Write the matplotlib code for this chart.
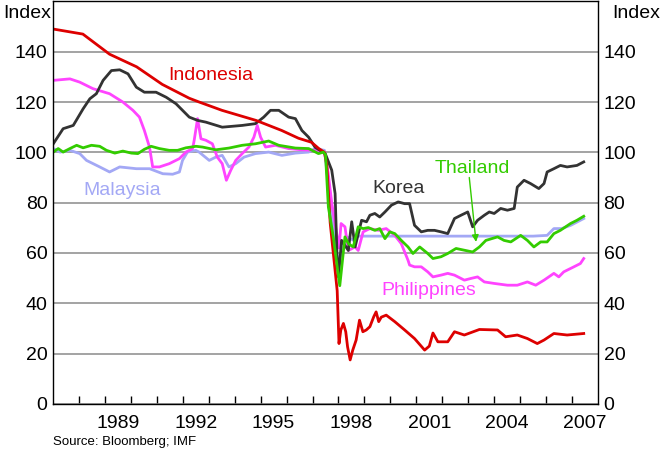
import numpy as np
import matplotlib
matplotlib.use("Agg")
import matplotlib.pyplot as plt

plt.rcParams['font.family'] = ['Liberation Sans', 'DejaVu Sans']

# exchange rate indices against US$, decimal years
indo_t = [1987.01, 1988.15, 1989.18, 1990.22, 1991.21, 1992.25, 1992.63, 1993.51,
          1994.82, 1995.81, 1996.46, 1996.96, 1997.23, 1997.46, 1997.55, 1997.68,
          1997.85, 1997.95, 1998.02, 1998.09, 1998.19, 1998.28, 1998.35, 1998.45,
          1998.55, 1998.68, 1998.81, 1998.94, 1999.07, 1999.21, 1999.36, 1999.45,
          1999.55, 1999.65, 1999.84, 2000.17, 2000.55, 2000.93, 2001.32, 2001.50,
          2001.64, 2001.83, 2002.21, 2002.47, 2002.85, 2003.43, 2004.13, 2004.44,
          2004.89, 2005.28, 2005.66, 2005.92, 2006.30, 2006.81, 2007.45]
indo_v = [149, 147, 139, 134, 127, 121.5, 120, 116.7,
          112.7, 108.7, 105.6, 104, 101.6, 100, 95, 72,
          55, 45, 24, 29.4, 32, 28.7, 22.7, 17.5,
          21.4, 25.4, 33.3, 28.7, 29.4, 30.7, 34.7, 36.6,
          32.7, 34.5, 35.3, 32.7, 29.4, 26, 21.4, 23,
          28.2, 24.7, 24.7, 28.7, 27.4, 29.6, 29.4, 26.7,
          27.4, 26, 24, 25.4, 28, 27.4, 28]

korea_t = [1987.01, 1987.39, 1987.78, 1988.16, 1988.42, 1988.67, 1988.93, 1989.25,
           1989.57, 1989.89, 1990.21, 1990.52, 1990.97, 1991.36, 1991.74, 1992.25,
           1992.57, 1992.89, 1993.52, 1994.29, 1994.80, 1995.12, 1995.38, 1995.70,
           1996.08, 1996.34, 1996.59, 1996.85, 1997.10, 1997.49, 1997.74, 1997.87,
           1997.94, 1998.00, 1998.12, 1998.38, 1998.51, 1998.64, 1998.89, 1999.08,
           1999.21, 1999.40, 1999.59, 1999.79, 2000.04, 2000.30, 2000.55, 2000.74,
           2000.93, 2001.19, 2001.44, 2001.70, 2001.95, 2002.21, 2002.47, 2002.72,
           2002.98, 2003.17, 2003.36, 2003.62, 2003.81, 2004.00, 2004.25, 2004.51,
           2004.77, 2004.89, 2005.15, 2005.40, 2005.72, 2005.92, 2006.04, 2006.30,
           2006.55, 2006.81, 2007.19, 2007.45]
korea_v = [103.4, 109.4, 110.7, 117.3, 121.3, 123.3, 128.6, 132.5,
           132.8, 131.2, 125.9, 123.9, 123.9, 121.9, 119.3, 114,
           112.7, 112, 110, 110.7, 111.4, 114, 116.7, 116.7,
           114, 113.4, 108.7, 106, 102, 99.5, 92.9, 83.6,
           60, 50.5, 65, 61, 72.4, 62.4, 73, 72.4,
           75, 75.7, 74.3, 76.3, 79, 80.3, 79.6, 79.6,
           71, 68.4, 69, 69, 68.4, 67.7, 73.7, 75,
           76.3, 70.4, 73, 75, 76.3, 75.7, 77.7, 77,
           77.7, 86.2, 88.9, 87.6, 85.6, 87.6, 92.2, 93.5,
           94.8, 94.2, 94.8, 96.2]

phil_t = [1987.01, 1987.65, 1988.03, 1988.54, 1989.18, 1989.69, 1990.08, 1990.33,
          1990.52, 1990.72, 1990.84, 1991.10, 1991.48, 1991.87, 1992.12, 1992.38,
          1992.44, 1992.57, 1992.70, 1992.89, 1993.14, 1993.33, 1993.52, 1993.68,
          1993.85, 1994.04, 1994.29, 1994.55, 1994.74, 1994.87, 1995.00, 1995.19,
          1995.57, 1996.08, 1996.59, 1997.10, 1997.46, 1997.60, 1997.74, 1997.93,
          1998.02, 1998.10, 1998.25, 1998.38, 1998.64, 1998.76, 1998.95, 1999.21,
          1999.53, 1999.84, 2000.17, 2000.42, 2000.68, 2000.74, 2000.93, 2001.19,
          2001.44, 2001.64, 2001.95, 2002.21, 2002.47, 2002.85, 2003.11, 2003.36,
          2003.62, 2004.00, 2004.51, 2004.89, 2005.28, 2005.60, 2005.92, 2006.30,
          2006.49, 2006.68, 2007.07, 2007.32, 2007.45]
phil_v = [128.6, 129.2, 127.9, 125.3, 123.3, 120, 116.7, 114,
          108.7, 102, 94.2, 94.2, 95.5, 97.5, 100.1, 101.5,
          104.8, 113.4, 105.4, 104.8, 103.4, 98.1, 95.5, 88.9,
          92.9, 96.8, 99.5, 102.1, 106, 110.7, 106, 102.1,
          102.8, 101.5, 101, 100.8, 100.1, 92, 80, 67.7,
          62, 71.7, 70.4, 61, 62.4, 61, 68.4, 69.7,
          69, 69.7, 67, 63.7, 57.1, 55.2, 54.5, 54.5,
          52.5, 50.5, 51.2, 51.9, 51.2, 49.2, 49.9, 50.5,
          48.5, 47.9, 47.2, 47.2, 48.5, 47.2, 49.2, 51.9,
          50.5, 52.5, 54.5, 55.8, 57.8]

malay_t = [1987.01, 1987.27, 1987.65, 1988.03, 1988.29, 1988.80, 1989.18, 1989.57,
           1990.21, 1990.72, 1991.23, 1991.61, 1991.87, 1991.99, 1992.18, 1992.50,
           1992.63, 1993.02, 1993.27, 1993.52, 1993.78, 1994.04, 1994.36, 1994.80,
           1995.31, 1995.82, 1996.34, 1996.85, 1997.10, 1997.46, 1997.74, 1997.87,
           1998.00, 1998.15, 1998.34, 1998.58, 1998.70, 2005.50, 2006.04, 2006.30,
           2006.60, 2006.95, 2007.45]
malay_v = [101.5, 100.1, 100.8, 99.5, 96.8, 94.2, 92.2, 94.2,
           93.5, 93.5, 91.5, 91.3, 92.2, 96.8, 100.1, 100.8,
           100.1, 96.8, 98.1, 98.8, 94.2, 95.5, 98.1, 99.5,
           100.1, 98.8, 99.7, 100.1, 101.5, 100.8, 75.7, 65,
           54.5, 62.4, 66.4, 65, 66.7, 66.7, 67, 69.7,
           69.7, 71, 73.7]

thai_t = [1987.01, 1987.20, 1987.39, 1987.65, 1987.91, 1988.16, 1988.48, 1988.80,
          1989.06, 1989.38, 1989.69, 1990.02, 1990.27, 1990.52, 1990.78, 1991.10,
          1991.48, 1991.80, 1992.12, 1992.51, 1992.76, 1993.27,
          1993.78, 1994.29, 1994.80, 1995.31, 1995.70, 1996.34, 1996.85, 1997.23,
          1997.42, 1997.50, 1997.61, 1997.80, 1997.95, 1998.05, 1998.25, 1998.38,
          1998.57, 1998.76, 1998.95, 1999.15, 1999.40, 1999.59, 1999.79, 1999.98,
          2000.17, 2000.42, 2000.68, 2000.87, 2001.13, 2001.44, 2001.64, 2001.95,
          2002.21, 2002.53, 2002.85, 2003.17, 2003.43, 2003.68, 2004.13, 2004.38,
          2004.64, 2005.02, 2005.28, 2005.53, 2005.79, 2006.04, 2006.30, 2006.55,
          2006.94, 2007.19, 2007.45]
thai_v = [100.1, 101.5, 100.1, 101.5, 102.8, 101.8, 102.8, 102.4,
          100.8, 99.7, 100.5, 99.7, 99.5, 101.2, 102.4, 101.5,
          100.8, 100.8, 101.8, 102.4, 102.1, 101,
          101.7, 102.8, 103.4, 104.5, 102.8, 101.7, 101.5, 99.5,
          100.1, 99, 78.3, 66.4, 54.5, 47, 66.4, 63.7,
          62.4, 70.4, 69.7, 70.1, 69, 69.7, 65.7, 68.4,
          67.7, 65, 62.4, 59.8, 62.4, 59.8, 57.8, 58.5,
          59.8, 61.8, 61.1, 60.4, 62.4, 65, 66.4, 65,
          64.4, 67, 65, 62.4, 64.4, 64.4, 67.7, 69,
          71.7, 73, 74.6]

year_labels = [1989, 1992, 1995, 1998, 2001, 2004, 2007]
y_ticks = [0, 20, 40, 60, 80, 100, 120, 140]

fig = plt.figure(figsize=(6.66, 4.58), dpi=100)
ax = fig.add_axes([0.0796, 0.118, 0.8183, 0.879])

ax.plot(malay_t, malay_v, color='#a3a8f5', lw=2.0)
ax.plot(phil_t, phil_v, color='#ff44ff', lw=2.0)
ax.plot(korea_t, korea_v, color='#333333', lw=2.0)
ax.plot(indo_t, indo_v, color='#dd0000', lw=2.0)
ax.plot(thai_t, thai_v, color='#33cc00', lw=2.0)

ax.set_xlim(1987, 2008)
ax.set_ylim(0, 160)
ax.set_yticks(y_ticks)
ax.grid(axis='y', color='#8a8a8a', lw=1.1)
ax.set_axisbelow(True)
ax.tick_params(axis='y', length=0, labelsize=14, labelleft=True, labelright=True, pad=4)

ax.set_xticks([y + 0.5 for y in year_labels])
ax.set_xticklabels([str(y) for y in year_labels])
ax.set_xticks(np.arange(1988, 2008), minor=True)
ax.tick_params(axis='x', which='major', length=0, labelsize=14, pad=8)
ax.tick_params(axis='x', which='minor', direction='in', length=6, width=1, color='black')

for s in ax.spines.values():
    s.set_linewidth(1.0)
    s.set_color('black')

txt = dict(fontsize=14, ha='center', va='center')
ax.text(1993.09, 130.6, 'Indonesia', color='#dd0000', **txt)
ax.text(1989.68, 84.9, 'Malaysia', color='#a3a8f5', **txt)
ax.text(2000.33, 85.7, 'Korea', color='#333333', **txt)
ax.text(2003.17, 93.7, 'Thailand', color='#33cc00', **txt)
ax.text(2001.48, 45.2, 'Philippines', color='#ff44ff', **txt)
ax.annotate('', xy=(2003.30, 64.4), xytext=(2003.04, 90),
            arrowprops=dict(arrowstyle='-|>', color='#33cc00', lw=1.0,
                            mutation_scale=10, shrinkA=0, shrinkB=0))

fig.text(3 / 666, 1 - 13 / 458, 'Index', fontsize=14, ha='left', va='center')
fig.text(660 / 666, 1 - 13 / 458, 'Index', fontsize=14, ha='right', va='center')
fig.text(53 / 666, 1 - 442 / 458, 'Source: Bloomberg; IMF', fontsize=9.5,
         ha='left', va='center')

fig.savefig('out.png', dpi=100)
